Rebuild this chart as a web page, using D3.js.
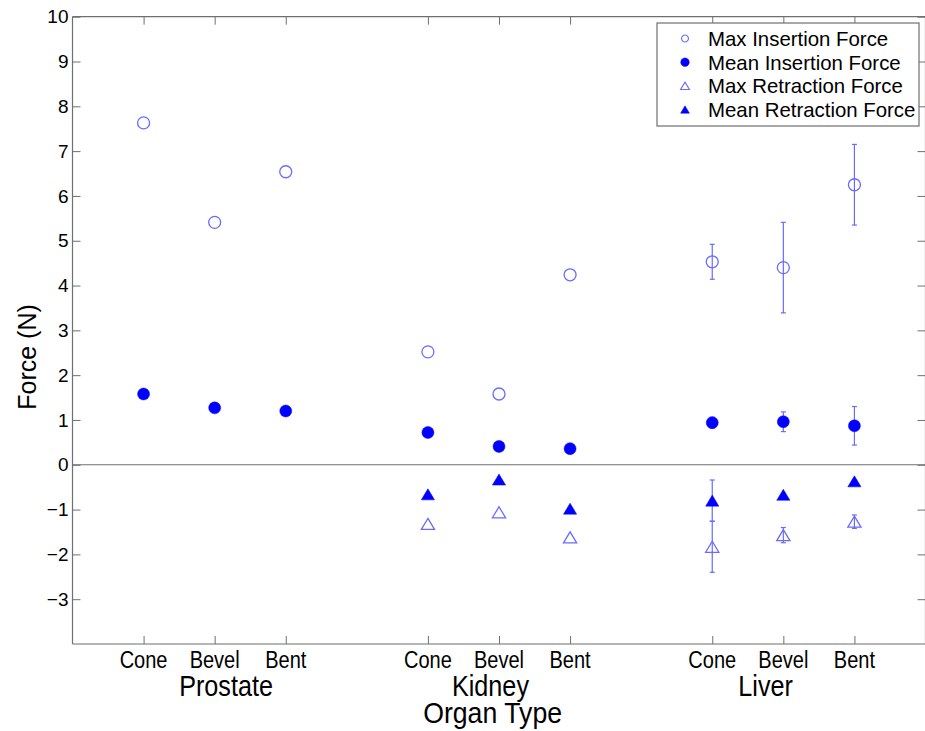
<!DOCTYPE html>
<html>
<head>
<meta charset="utf-8">
<script src="https://cdn.jsdelivr.net/npm/d3@7/dist/d3.min.js"></script>
<style>
  html, body { margin: 0; padding: 0; background: #fff; }
  svg { display: block; }
  text { font-family: "Liberation Sans", Arial, Helvetica, sans-serif; fill: #000; }
</style>
</head>
<body>
<svg id="chart" width="925" height="731"></svg>
<script>
// ---------------- data ----------------
const needles = ["Cone", "Bevel", "Bent"];
const organs = ["Prostate", "Kidney", "Liver"];
const organLabelAt = [3.16, 6.88, 10.75];   // x-axis units where each organ label sits
const yTicks = [-3, -2, -1, 0, 1, 2, 3, 4, 5, 6, 7, 8, 9, 10];

// one value per organ/needle pair: Prostate(Cone,Bevel,Bent), Kidney(...), Liver(...)
const maxInsertion      = [7.63, 5.41, 6.54,  2.52, 1.58, 4.24,  4.53, 4.40, 6.25];
const maxInsertionErr   = [null, null, null,  null, null, null,  0.39, 1.01, 0.90];
const meanInsertion     = [1.58, 1.27, 1.20,  0.72, 0.41, 0.36,  0.94, 0.96, 0.87];
const meanInsertionErr  = [null, null, null,  null, null, null,  0.12, 0.22, 0.43];
const maxRetraction     = [null, null, null, -1.32, -1.06, -1.62, -1.83, -1.57, -1.27];
const maxRetractionErr  = [null, null, null,  null, null, null,  0.57, 0.17, 0.15];
const meanRetraction    = [null, null, null, -0.66, -0.33, -0.98, -0.80, -0.67, -0.37];
const meanRetractionErr = [null, null, null,  null, null, null,  0.46, 0.03, 0.03];

const seriesNames = ["Max Insertion Force", "Mean Insertion Force", "Max Retraction Force", "Mean Retraction Force"];

// ---------------- layout ----------------
const svg = d3.select("#chart");
const pL = 72.5, pR = 925.5, pT = 16.7, pB = 644;
const x = d3.scaleLinear().domain([1, 13]).range([pL, pR]);
const y = d3.scaleLinear().domain([-4, 10]).range([pB, pT]);
const axisColor = "#6f6f6f";
const blue = "#0000ff";
const lightBlue = "#6a6aff";

// position of each organ/needle pair on the x scale
const pos = (i) => Math.floor(i / 3) * 4 + (i % 3) + 2;
const tickVals = d3.range(9).map(pos);

// zero line
svg.append("line")
  .attr("x1", x(1)).attr("x2", x(13))
  .attr("y1", y(0)).attr("y2", y(0))
  .attr("stroke", axisColor).attr("stroke-width", 1.2);

// axes (MATLAB-style box with inward ticks)
const gL = svg.append("g").attr("transform", `translate(${pL},0)`)
  .call(d3.axisRight(y).tickValues(yTicks).tickSize(8).tickFormat(""));
const gR = svg.append("g").attr("transform", `translate(${pR},0)`)
  .call(d3.axisLeft(y).tickValues(yTicks).tickSize(8).tickFormat(""));
const gB = svg.append("g").attr("transform", `translate(0,${pB})`)
  .call(d3.axisTop(x).tickValues(tickVals).tickSize(8).tickFormat(""));
const gT = svg.append("g").attr("transform", `translate(0,${pT})`)
  .call(d3.axisBottom(x).tickValues(tickVals).tickSize(8).tickFormat(""));
[gL, gR, gB, gT].forEach(g => {
  g.selectAll("path.domain").attr("stroke", axisColor).attr("stroke-width", 1.2);
  g.selectAll(".tick line").attr("stroke", axisColor).attr("stroke-width", 1);
});
[gL, gR].forEach(g => g.select("path.domain").attr("d", `M0,${pT}V${pB}`));
[gB, gT].forEach(g => g.select("path.domain").attr("d", `M${pL},0H${pR}`));

// y tick labels
svg.append("g").selectAll("text").data(yTicks).join("text")
  .attr("x", pL - 4).attr("y", d => y(d))
  .attr("dy", "0.35em").attr("text-anchor", "end")
  .attr("font-size", 19)
  .text(d => d < 0 ? "\u2212" + Math.abs(d) : d);

// condensed text helper (MATLAB's narrow Helvetica look)
function narrowText(parent, cx, cy, size, sx, str) {
  parent.append("text")
    .attr("transform", `translate(${cx},${cy}) scale(${sx},1)`)
    .attr("text-anchor", "middle").attr("font-size", size)
    .text(str);
}

// x tick labels (needle types)
const gx = svg.append("g");
d3.range(9).forEach(i => narrowText(gx, x(pos(i)), 668, 23, 0.87, needles[i % 3]));

// organ labels
const go = svg.append("g");
organs.forEach((o, k) => narrowText(go, x(organLabelAt[k]), 696, 30, 0.84, o));

// axis titles
narrowText(svg, x(6.91), 723, 29, 0.92, "Organ Type");
svg.append("text")
  .attr("transform", `translate(36,357) rotate(-90)`)
  .attr("text-anchor", "middle").attr("font-size", 25)
  .text("Force (N)");

// ---------------- marks ----------------
function triPath(s) {
  const w = s * 1.1, h = s * 0.92;
  return `M0,${-h}L${w},${h}L${-w},${h}Z`;
}

const series = [
  { vals: maxInsertion,   errs: maxInsertionErr,   shape: "circle",   filled: false },
  { vals: meanInsertion,  errs: meanInsertionErr,  shape: "circle",   filled: true  },
  { vals: maxRetraction,  errs: maxRetractionErr,  shape: "triangle", filled: false },
  { vals: meanRetraction, errs: meanRetractionErr, shape: "triangle", filled: true  }
];

const marks = svg.append("g");
series.forEach(s => {
  const pts = s.vals.map((v, i) => ({ i, v, e: s.errs[i] })).filter(p => p.v !== null);
  const eb = marks.append("g").selectAll("g").data(pts.filter(p => p.e !== null)).join("g")
    .attr("stroke", lightBlue).attr("stroke-width", 1.2);
  eb.append("line")
    .attr("x1", p => x(pos(p.i))).attr("x2", p => x(pos(p.i)))
    .attr("y1", p => y(p.v + p.e)).attr("y2", p => y(p.v - p.e));
  [1, -1].forEach(sg => {
    eb.append("line")
      .attr("x1", p => x(pos(p.i)) - 2.5).attr("x2", p => x(pos(p.i)) + 2.5)
      .attr("y1", p => y(p.v + sg * p.e)).attr("y2", p => y(p.v + sg * p.e));
  });
  marks.append("g").selectAll("path").data(pts).join("path")
    .attr("transform", p => `translate(${x(pos(p.i))},${y(p.v)})`)
    .attr("d", s.shape === "circle"
      ? d3.symbol().type(d3.symbolCircle).size(Math.PI * 36)()
      : triPath(6))
    .attr("fill", s.filled ? blue : "none")
    .attr("stroke", s.filled ? blue : lightBlue)
    .attr("stroke-width", s.filled ? 0.5 : 1.3);
});

// ---------------- legend ----------------
const lg = svg.append("g");
lg.append("rect")
  .attr("x", 657).attr("y", 23).attr("width", 262).attr("height", 103)
  .attr("fill", "#fff").attr("stroke", axisColor).attr("stroke-width", 1.2);
const rowY = d3.scaleLinear().domain([0, 3]).range([38.5, 109.5]);
seriesNames.forEach((name, k) => {
  const s = series[k];
  lg.append("path")
    .attr("transform", `translate(685,${rowY(k)})`)
    .attr("d", s.shape === "circle"
      ? d3.symbol().type(d3.symbolCircle).size(Math.PI * (s.filled ? 18 : 12))()
      : triPath(4))
    .attr("fill", s.filled ? blue : "none")
    .attr("stroke", s.filled ? blue : lightBlue)
    .attr("stroke-width", s.filled ? 0.5 : 1.1);
  lg.append("text")
    .attr("x", 708).attr("y", rowY(k)).attr("dy", "0.36em")
    .attr("font-size", 20.4).text(name);
});
</script>
</body>
</html>
